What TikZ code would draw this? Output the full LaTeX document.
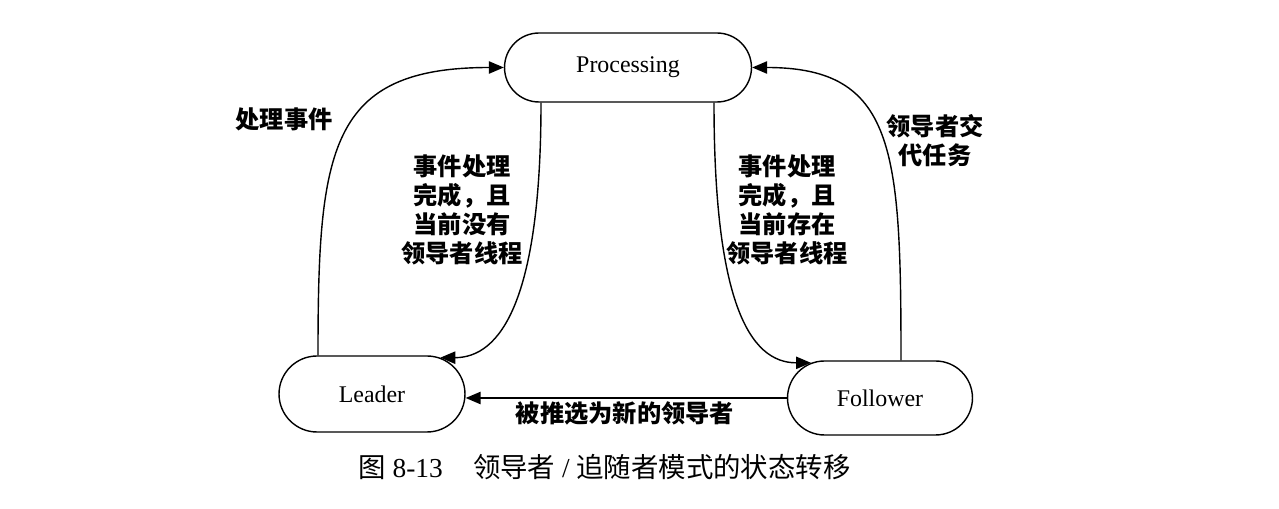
\documentclass[tikz,border=0pt]{standalone}
\usepackage{fontspec}
\setmainfont{Liberation Serif}
\newfontfamily\cjk{Noto Sans CJK SC}
\usetikzlibrary{shapes.misc,arrows.meta,calc}
\begin{document}
\begin{tikzpicture}[x=0.02cm,y=-0.02cm,
  state/.style={draw,line width=0.8pt,rounded rectangle,inner sep=0pt,font=\fontsize{13.6}{16}\selectfont},
  conn/.style={line width=0.8pt,-{Triangle[length=8.5pt,width=7pt]}},
  lbl/.style={align=center,font=\cjk\bfseries\fontsize{13.8}{16.6}\selectfont,inner sep=0pt},
  capt/.style={anchor=west,inner sep=0pt,font=\fontsize{15.6}{18}\selectfont}]
\useasboundingbox[fill=white] (0,0) rectangle (1279,509);
\node[state,minimum width=4.94cm,minimum height=1.38cm] (P) at (628,67.5) {Processing};
\node[state,minimum width=3.72cm,minimum height=1.52cm] (L) at (372,394) {Leader};
\node[state,minimum width=3.7cm,minimum height=1.48cm] (F) at (880,398) {Follower};
% Leader -> Processing
\draw[conn] ($(L.north)+(-54,0)$) .. controls ($(L.north)+(-54,-206)$) and ($(P.west)+(-175,0)$) .. (P.west);
% Processing -> Leader
\draw[conn] ($(P.south)+(-87,0)$) .. controls ($(P.south)+(-87,198)$) and ($(L.28)+(60,0)$) .. (L.28);
% Processing -> Follower
\draw[conn] ($(P.south)+(86,0)$) .. controls ($(P.south)+(86,198)$) and ($(F.153)+(-62,0)$) .. (F.153);
% Follower -> Processing
\draw[conn] ($(F.north)+(21,0)$) .. controls ($(F.north)+(21,-211)$) and ($(P.east)+(143,0)$) .. (P.east);
% Follower -> Leader
\draw[conn] (F.west) -- (F.west -| L.east);
\node[lbl] (t1) at (284,119) {处理事件};
\node[lbl] (t2) at (462,210) {事件处理\\完成，且\\当前没有\\领导者线程};
\node[lbl] (t3) at (787,210) {事件处理\\完成，且\\当前存在\\领导者线程};
\node[lbl] (t4) at (935,141) {领导者交\\代任务};
\node[lbl] (t5) at (625,413) {被推选为新的领导者};
\node[capt] (cap) at (358,467) {{\cjk 图}~8-13\hspace{1.1em}{\cjk 领导者}~/~{\cjk 追随者模式的状态转移}};
\end{tikzpicture}
\end{document}
